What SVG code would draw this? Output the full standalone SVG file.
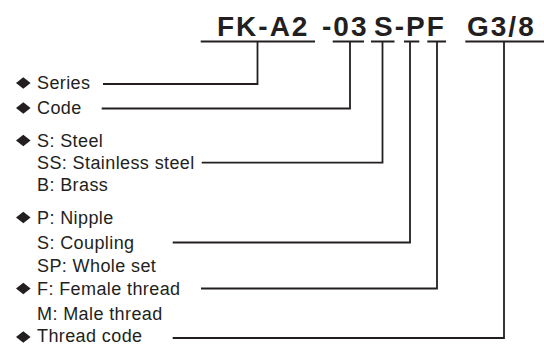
<svg xmlns="http://www.w3.org/2000/svg" width="544" height="346" viewBox="0 0 544 346">
<style>
.t{font-family:"Liberation Sans",Arial,sans-serif;font-size:18px;letter-spacing:0.4px;fill:#231f20}
.h{font-family:"Liberation Sans",Arial,sans-serif;font-size:28px;font-weight:bold;letter-spacing:2px;fill:#231f20}
.c{fill:none;stroke:#231f20;stroke-width:1.8}
.d{fill:#231f20}
</style>
<rect width="544" height="346" fill="#fff"/>
<g id="title">
<text class="h" y="36"><tspan x="217">FK-A2</tspan><tspan x="322">-03</tspan><tspan x="374">S-PF</tspan><tspan x="467">G3/8</tspan></text>
</g>
<g id="connectors" class="c">
<path d="M200.7 41.5H315M257.5 41.5V84H103"/>
<path d="M332.7 41.5H364M350 41.5V108.5H101.7"/>
<path d="M371 41.5H394.5M382.5 41.5V162.7H201.7"/>
<path d="M404 41.5H419.3M410 41.5V242.5H172.7"/>
<path d="M427.3 41.5H446M437 41.5V288.5H201"/>
<path d="M465.3 41.5H544M504 41.5V338H172.7"/>
</g>
<g id="series">
<polygon class="d" points="16,83 23.3,77.2 30.6,83 23.3,88.8"/>
<text class="t" x="37" y="89">Series</text>
</g>
<g id="code">
<polygon class="d" points="16,108 23.3,102.2 30.6,108 23.3,113.8"/>
<text class="t" x="37" y="114">Code</text>
</g>
<g id="material">
<polygon class="d" points="16,140.5 23.3,134.7 30.6,140.5 23.3,146.3"/>
<text class="t" x="37" y="146.5">S: Steel</text>
<text class="t" x="37" y="168.5">SS: Stainless steel</text>
<text class="t" x="37" y="190.5">B: Brass</text>
</g>
<g id="type">
<polygon class="d" points="16,217.5 23.3,211.7 30.6,217.5 23.3,223.3"/>
<text class="t" x="37" y="224">P: Nipple</text>
<text class="t" x="37" y="248.5">S: Coupling</text>
<text class="t" x="37" y="272">SP: Whole set</text>
</g>
<g id="thread">
<polygon class="d" points="16,288.5 23.3,282.7 30.6,288.5 23.3,294.3"/>
<text class="t" x="37" y="295">F: Female thread</text>
<text class="t" x="37" y="319.5">M: Male thread</text>
</g>
<g id="threadcode">
<polygon class="d" points="16,337 23.3,331.2 30.6,337 23.3,342.8"/>
<text class="t" x="37" y="342">Thread code</text>
</g>
</svg>
